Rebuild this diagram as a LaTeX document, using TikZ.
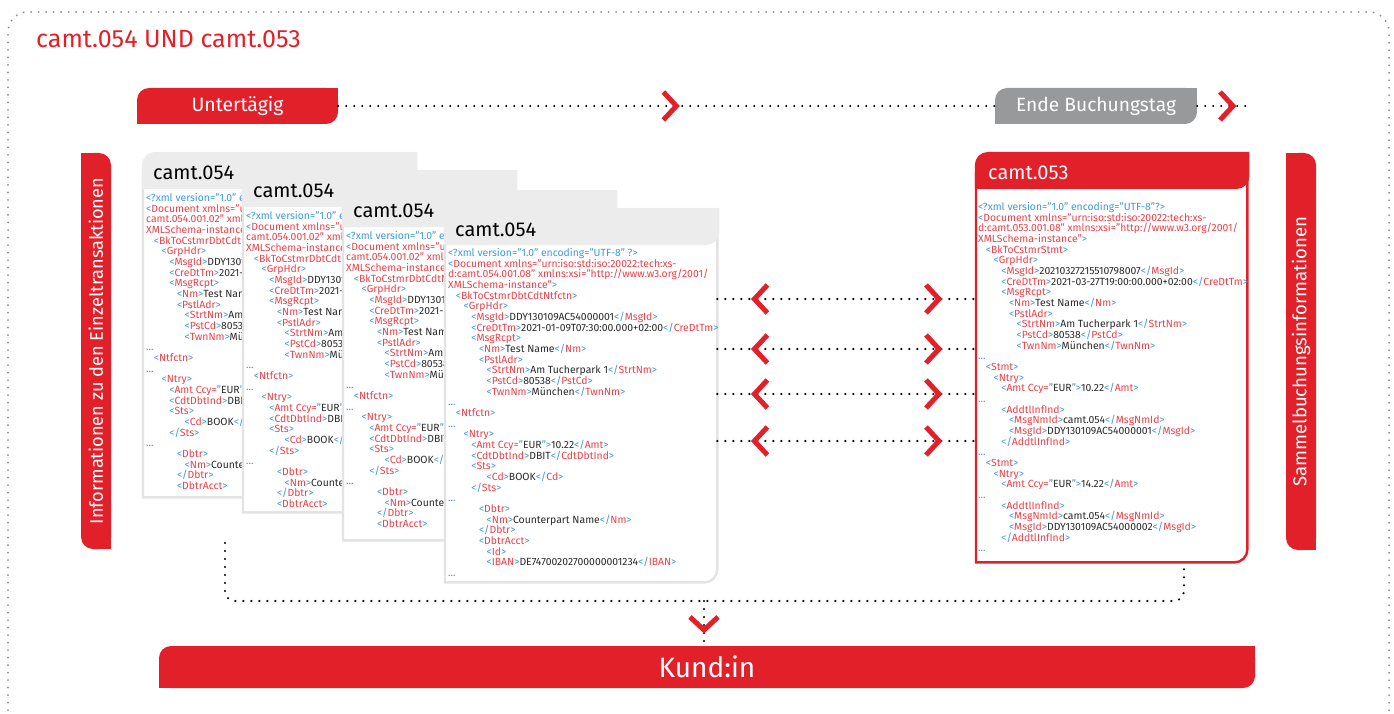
\documentclass[tikz,border=0pt]{standalone}
\usepackage{fontspec}
\setmainfont{Fira Sans}
\usetikzlibrary{positioning,decorations.markings}

\definecolor{sred}{HTML}{E2202A}
\definecolor{tagred}{HTML}{E6434B}
\definecolor{tagblue}{HTML}{3E9AD8}
\definecolor{xmlink}{HTML}{2B2B2B}
\definecolor{boxgray}{HTML}{98999B}
\definecolor{hdrgray}{HTML}{ECECEC}
\definecolor{edgegray}{HTML}{E3E3E3}
\definecolor{dotgray}{HTML}{8C8C8C}

\newlength\indstep
\setlength\indstep{7.7pt}
\newcommand\ind[1]{\hspace*{#1\indstep}}
\newcommand\xo[1]{\textcolor{tagblue}{<}\textcolor{tagred}{#1}\textcolor{tagblue}{>}}
\newcommand\xc[1]{\textcolor{tagblue}{</}\textcolor{tagred}{#1}\textcolor{tagblue}{>}}
\newcommand\xa[3]{\textcolor{tagblue}{<}\textcolor{tagred}{#1 #2=}\textcolor{tagblue}{"}#3\textcolor{tagblue}{"}\textcolor{tagblue}{>}}
\newcommand\xdots{\textcolor{tagblue}{...}}

\newcommand\ntfpeek{%
\textcolor{tagblue}{<?xml version="1.0" en}\\
\textcolor{tagblue}{<}\textcolor{tagred}{Document xmlns="urn}\\
\textcolor{tagred}{camt.054.001.02" xmln}\\
\textcolor{tagred}{XMLSchema-instance"}\textcolor{tagblue}{>}\\
\ind1\textcolor{tagblue}{<}\textcolor{tagred}{BkToCstmrDbtCdtNtf}\\
\ind2\xo{GrpHdr}\\
\ind3\xo{MsgId}DDY1301\\
\ind3\xo{CreDtTm}2021-0\\
\ind3\xo{MsgRcpt}\\
\ind4\xo{Nm}Test Name\\
\ind4\xo{PstlAdr}\\
\ind5\xo{StrtNm}Am T\\
\ind5\xo{PstCd}80538\\
\ind5\xo{TwnNm}Mün\\
\xdots\\
\ind1\xo{Ntfctn}\\
\xdots\\
\ind2\xo{Ntry}\\
\ind3\xa{Amt}{Ccy}{EUR}\\
\ind3\xo{CdtDbtInd}DBIT\textcolor{tagblue}{<}\\
\ind3\xo{Sts}\\
\ind5\xo{Cd}BOOK\textcolor{tagblue}{</}\textcolor{tagred}{C}\\
\ind3\xc{Sts}\\
\xdots\\
\ind4\xo{Dbtr}\\
\ind5\xo{Nm}Counte\\
\ind4\xc{Dbtr}\\
\ind4\xo{DbtrAcct}}

\newcommand\ntftext{%
\textcolor{tagblue}{<?xml version="1.0" encoding="UTF-8" ?>}\\
\textcolor{tagblue}{<}\textcolor{tagred}{Document xmlns="urn:iso:std:iso:20022:tech:xs-}\\
\textcolor{tagred}{d:camt.054.001.08" xmlns:xsi="http://www.w3.org/2001/}\\
\textcolor{tagred}{XMLSchema-instance"}\textcolor{tagblue}{>}\\
\ind1\xo{BkToCstmrDbtCdtNtfctn}\\
\ind2\xo{GrpHdr}\\
\ind3\xo{MsgId}DDY130109AC54000001\xc{MsgId}\\
\ind3\xo{CreDtTm}2021-01-09T07:30:00.000+02:00\xc{CreDtTm}\\
\ind3\xo{MsgRcpt}\\
\ind4\xo{Nm}Test Name\xc{Nm}\\
\ind4\xo{PstlAdr}\\
\ind5\xo{StrtNm}Am Tucherpark 1\xc{StrtNm}\\
\ind5\xo{PstCd}80538\xc{PstCd}\\
\ind5\xo{TwnNm}München\xc{TwnNm}\\
\xdots\\
\ind1\xo{Ntfctn}\\
\xdots\\
\ind2\xo{Ntry}\\
\ind3\xa{Amt}{Ccy}{EUR}10.22\xc{Amt}\\
\ind3\xo{CdtDbtInd}DBIT\xc{CdtDbtInd}\\
\ind3\xo{Sts}\\
\ind5\xo{Cd}BOOK\xc{Cd}\\
\ind3\xc{Sts}\\
\xdots\\
\ind4\xo{Dbtr}\\
\ind5\xo{Nm}Counterpart Name\xc{Nm}\\
\ind4\xc{Dbtr}\\
\ind4\xo{DbtrAcct}\\
\ind5\xo{Id}\\
\ind5\xo{IBAN}DE74700202700000001234\xc{IBAN}\\
\xdots}

\newcommand\stmttext{%
\textcolor{tagblue}{<?xml version="1.0" encoding="UTF-8"?>}\\
\textcolor{tagblue}{<}\textcolor{tagred}{Document xmlns="urn:iso:std:iso:20022:tech:xs-}\\
\textcolor{tagred}{d:camt.053.001.08" xmlns:xsi="http://www.w3.org/2001/}\\
\textcolor{tagred}{XMLSchema-instance"}\textcolor{tagblue}{>}\\
\ind1\xo{BkToCstmrStmt}\\
\ind2\xo{GrpHdr}\\
\ind3\xo{MsgId}20210327215510798007\xc{MsgId}\\
\ind3\xo{CreDtTm}2021-03-27T19:00:00.000+02:00\xc{CreDtTm}\\
\ind3\xo{MsgRcpt}\\
\ind4\xo{Nm}Test Name\xc{Nm}\\
\ind4\xo{PstlAdr}\\
\ind5\xo{StrtNm}Am Tucherpark 1\xc{StrtNm}\\
\ind5\xo{PstCd}80538\xc{PstCd}\\
\ind5\xo{TwnNm}München\xc{TwnNm}\\
\xdots\\
\ind1\xo{Stmt}\\
\ind2\xo{Ntry}\\
\ind3\xa{Amt}{Ccy}{EUR}10.22\xc{Amt}\\
\xdots\\
\ind3\xo{AddtlInfInd}\\
\ind4\xo{MsgNmId}camt.054\xc{MsgNmId}\\
\ind4\xo{MsgId}DDY130109AC54000001\xc{MsgId}\\
\ind3\xc{AddtlInfInd}\\
\xdots\\
\ind1\xo{Stmt}\\
\ind2\xo{Ntry}\\
\ind3\xa{Amt}{Ccy}{EUR}14.22\xc{Amt}\\
\xdots\\
\ind3\xo{AddtlInfInd}\\
\ind4\xo{MsgNmId}camt.054\xc{MsgNmId}\\
\ind4\xo{MsgId}DDY130109AC54000002\xc{MsgId}\\
\ind3\xc{AddtlInfInd}\\
\xdots}

\newcommand\cardshape[3]{%
	\draw[draw=#3, line width=2.4pt, fill=white]
		([yshift=-20pt]#1.north west) -- (#1.south west) -- ([xshift=-13pt]#1.south east)
		arc[start angle=270, end angle=360, radius=13pt] -- ([yshift=-20pt]#1.north east);
	\fill[#2] ([xshift=-1.2pt,yshift=-37pt]#1.north west) -- ([xshift=-1.2pt,yshift=-13pt]#1.north west)
		arc[start angle=180, end angle=90, radius=13pt] -- ([xshift=2pt]#1.north east)
		-- ([xshift=2pt,yshift=-24pt]#1.north east)
		arc[start angle=0, end angle=-90, radius=13pt] -- cycle;
}
\newcommand\sharpne[2]{\fill[#2] (#1.north east) rectangle ++(-13pt,-13pt); \fill[#2] (#1.south west) rectangle ++(13pt,13pt);}
\newcommand\sharpnw[2]{\fill[#2] (#1.north west) rectangle ++(13pt,-13pt); \fill[#2] (#1.south east) rectangle ++(-13pt,13pt);}

\begin{document}
\begin{tikzpicture}[x=1pt,y=1pt,
	bar/.style={fill=#1,text=white,rounded corners=12pt,inner sep=0pt},
	card/.style={minimum width=272pt,inner sep=0pt,anchor=north west},
	cardtitle/.style={anchor=west,inner sep=0pt,font=\fontsize{20}{23}\selectfont},
	xmltext/.style={anchor=north west,align=left,inner sep=0pt,text=xmlink,font=\fontsize{10.4}{10.67}\selectfont},
	dotline/.style={line width=2.4pt,line cap=round,dash pattern=on 0pt off 8pt},
	outerdots/.style={draw=dotgray,line width=2pt,line cap=round,dash pattern=on 0pt off 7.5pt,rounded corners=20pt},
	chev/.style={draw=sred,line width=5pt,solid,line cap=butt,line join=miter},
	fwd/.style={postaction={decorate,decoration={markings,mark=at position #1 with {\draw[chev] (-13pt,14pt) -- (0pt,0pt) -- (-13pt,-14pt);}}}},
	both/.style={postaction={decorate,decoration={markings,mark=at position 37pt with {\draw[chev] (13pt,14pt) -- (0pt,0pt) -- (13pt,-14pt);},mark=at position -37pt with {\draw[chev] (-13pt,14pt) -- (0pt,0pt) -- (-13pt,-14pt);}}}}]
	\useasboundingbox (0,0) rectangle (1394,-714);
	\draw[outerdots] (8,-740) -- (8,-12) -- (1389,-12) -- (1389,-740);

	\node[anchor=west,inner sep=0pt,text=sred,font=\fontsize{25}{29}\selectfont] (title) at (36,-39) {camt.054 UND camt.053};

	\node[bar=sred,minimum width=201pt,minimum height=36pt,font=\fontsize{19.4}{22}\selectfont] (untert) at (237.5,-106) {Untertägig};
	\sharpne{untert}{sred}
	\node[bar=boxgray,minimum width=202pt,minimum height=36pt,font=\fontsize{19.2}{22}\selectfont] (endtag) at (1096,-106) {Ende Buchungstag};
	\sharpne{endtag}{boxgray}
	\coordinate (tlend) at (1250,-106);
	\draw[dotline,fwd=0.515] (untert) -- (endtag);
	\draw[dotline,fwd=-17pt] (endtag) -- (tlend);

	\node[bar=sred,minimum width=30pt,minimum height=396pt,font=\fontsize{18.2}{21}\selectfont] (einzel) at (96,-351) {\rotatebox{90}{Informationen zu den Einzeltransaktionen}};
	\sharpnw{einzel}{sred}
	\node[bar=sred,minimum width=30pt,minimum height=397pt,font=\fontsize{18.6}{21}\selectfont] (sammel) at (1301,-351.5) {\rotatebox{90}{Sammelbuchungsinformationen}};
	\sharpnw{sammel}{sred}

	\node[card,minimum height=345pt] (n1) at (143,-152) {};
	\cardshape{n1}{hdrgray}{edgegray}
	\node[cardtitle] (t1) at ([shift={(10pt,-21pt)}]n1.north west) {camt.054};
	\begin{scope}
		\clip ([shift={(1.5pt,1.5pt)}]n1.south west) rectangle ([shift={(100pt,-37pt)}]n1.north west);
		\node[xmltext] (x1) at ([shift={(3pt,-41.2pt)}]n1.north west) {\ntfpeek};
	\end{scope}

	\node[card,minimum height=342pt] (n2) at (243,-170) {};
	\cardshape{n2}{hdrgray}{edgegray}
	\node[cardtitle] (t2) at ([shift={(10pt,-21pt)}]n2.north west) {camt.054};
	\begin{scope}
		\clip ([shift={(1.5pt,1.5pt)}]n2.south west) rectangle ([shift={(100pt,-37pt)}]n2.north west);
		\node[xmltext] (x2) at ([shift={(3pt,-41.2pt)}]n2.north west) {\ntfpeek};
	\end{scope}

	\node[card,minimum height=350pt] (n3) at (343,-190) {};
	\cardshape{n3}{hdrgray}{edgegray}
	\node[cardtitle] (t3) at ([shift={(10pt,-21pt)}]n3.north west) {camt.054};
	\begin{scope}
		\clip ([shift={(1.5pt,1.5pt)}]n3.south west) rectangle ([shift={(102pt,-37pt)}]n3.north west);
		\node[xmltext] (x3) at ([shift={(3pt,-41.2pt)}]n3.north west) {\ntfpeek};
	\end{scope}

	\node[card,minimum height=374pt] (n4) at (445,-208) {};
	\cardshape{n4}{hdrgray}{edgegray}
	\node[cardtitle] (t4) at ([shift={(10pt,-22pt)}]n4.north west) {camt.054};
	\node[xmltext] (x4) at ([shift={(3pt,-40.2pt)}]n4.north west) {\ntftext};

	\node[card,minimum width=271pt,minimum height=410pt] (s53) at (976,-152) {};
	\cardshape{s53}{sred}{sred}
	\node[cardtitle,text=white] (t53) at ([shift={(12pt,-21pt)}]s53.north west) {camt.053};
	\node[xmltext] (x53) at ([shift={(2pt,-50.2pt)}]s53.north west) {\stmttext};

	\path
		(n4.east |- 0,-299)	edge	[dotline,both]	(s53.west |- 0,-299)
		(n4.east |- 0,-349)	edge	[dotline,both]	(s53.west |- 0,-349)
		(n4.east |- 0,-394)	edge	[dotline,both]	(s53.west |- 0,-394)
		(n4.east |- 0,-441)	edge	[dotline,both]	(s53.west |- 0,-441)
	;

	\node[bar=sred,minimum width=1096pt,minimum height=42pt,font=\fontsize{28}{32}\selectfont] (kund) at (707,-667) {Kund:in};
	\sharpne{kund}{sred}
	\coordinate (sf) at (225,-543);
	\coordinate (jn) at (704,-601);
	\coordinate (ef) at (1184,-567);
	\draw[dotline,rounded corners=10pt] (sf) |- (jn) -| (ef);
	\draw[dotline,fwd=29pt] (jn) -- (jn |- kund.north);
\end{tikzpicture}
\end{document}
